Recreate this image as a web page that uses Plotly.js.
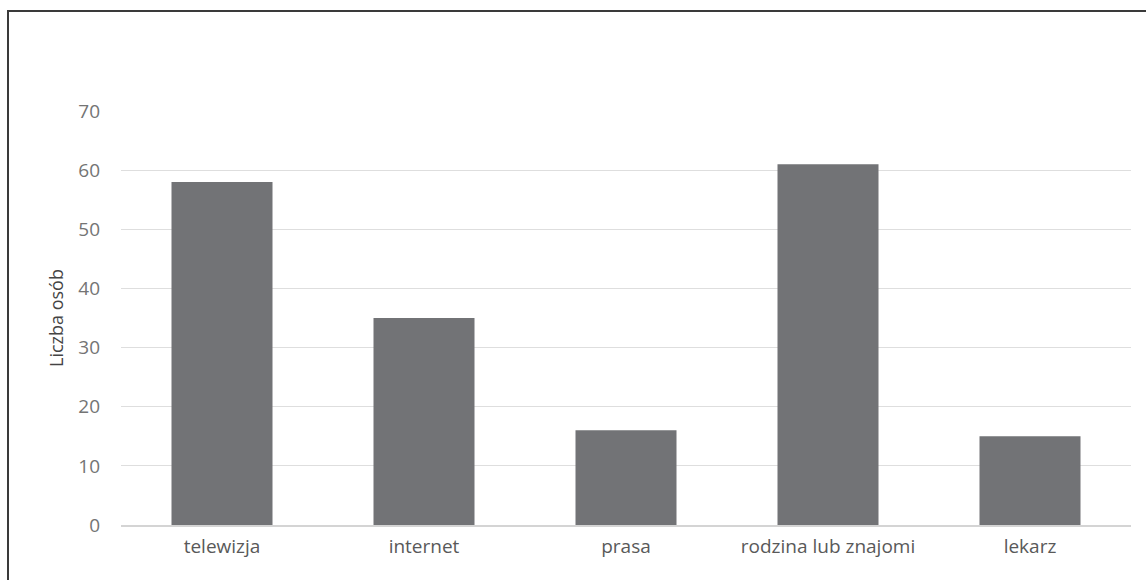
<!DOCTYPE html>
<html>
<head>
<meta charset="utf-8">
<script src="https://cdn.plot.ly/plotly-3.0.1.min.js"></script>
<style>
  html, body { margin: 0; padding: 0; background: #fff; }
  #frame {
    position: absolute; left: 7px; top: 10px; width: 1139px; height: 570px;
    border-top: 2px solid #3a3a3a; border-left: 2px solid #3a3a3a;
  }
  #chart { position: absolute; left: 0; top: 0; width: 1146px; height: 580px; }
</style>
</head>
<body>
<div id="frame"></div>
<div id="chart"></div>
<script>
// Źródła informacji – liczba osób
const categories = ['telewizja', 'internet', 'prasa', 'rodzina lub znajomi', 'lekarz'];
const counts = [58, 35, 16, 61, 15];
const yTicks = [0, 10, 20, 30, 40, 50, 60, 70];

const fontFamily = '"Open Sans", "Liberation Sans", sans-serif';

const trace = {
  type: 'bar',
  x: categories,
  y: counts,
  marker: { color: '#727376', line: { width: 0 } },
  hoverinfo: 'x+y'
};

const layout = {
  width: 1146,
  height: 580,
  margin: { l: 121, r: 15, t: 111, b: 55 },
  paper_bgcolor: 'rgba(0,0,0,0)',
  plot_bgcolor: 'rgba(0,0,0,0)',
  bargap: 0.5,
  showlegend: false,
  font: { family: fontFamily, color: '#595959', size: 19 },
  xaxis: {
    showgrid: false,
    showline: true,
    linecolor: '#d4d4d4',
    linewidth: 1.5,
    ticks: '',
    ticklabelstandoff: 4,
    tickfont: { size: 19, color: '#595959' },
    zeroline: false
  },
  yaxis: {
    range: [0, 70],
    tickvals: yTicks,
    ticktext: yTicks.map(String),
    showgrid: true,
    gridcolor: '#dedede',
    gridwidth: 1,
    zeroline: false,
    showline: false,
    ticks: '',
    ticklabelstandoff: 20,
    tickfont: { size: 19, color: '#747474' },
    title: { text: 'Liczba osób', font: { size: 18, color: '#444444' }, standoff: 9 }
  }
};

Plotly.newPlot('chart', [trace], layout, { displayModeBar: false, staticPlot: true });
</script>
</body>
</html>
